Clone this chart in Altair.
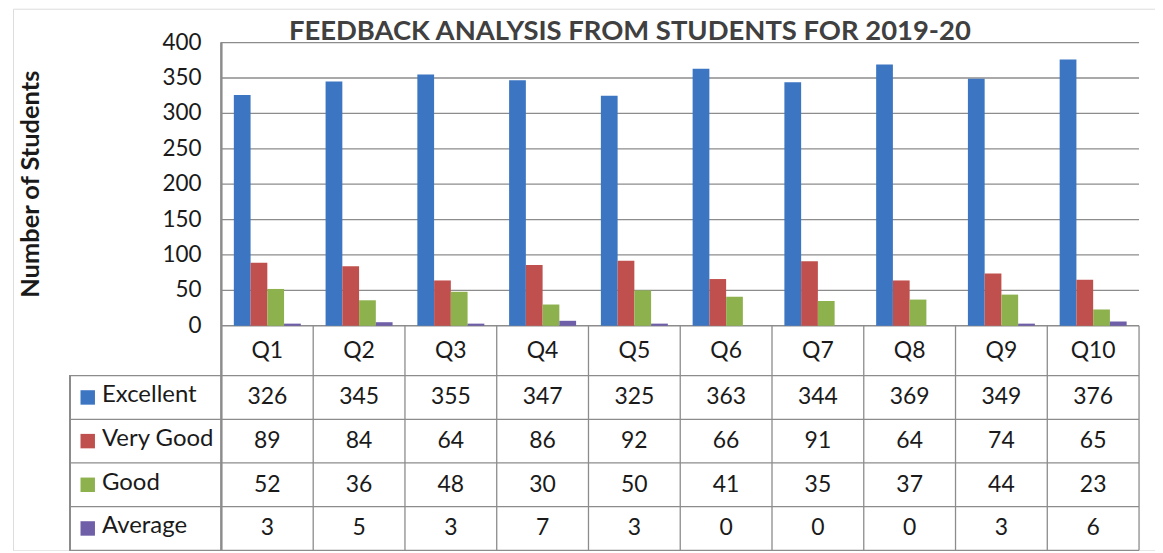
import altair as alt
import pandas as pd

# ---- data ----
questions = ["Q1", "Q2", "Q3", "Q4", "Q5", "Q6", "Q7", "Q8", "Q9", "Q10"]
series = ["Excellent", "Very Good", "Good", "Average"]
excellent = [326, 345, 355, 347, 325, 363, 344, 369, 349, 376]
very_good = [89, 84, 64, 86, 92, 66, 91, 64, 74, 65]
good = [52, 36, 48, 30, 50, 41, 35, 37, 44, 23]
average = [3, 5, 3, 7, 3, 0, 0, 0, 3, 6]
y_ticks = [0, 50, 100, 150, 200, 250, 300, 350, 400]
y_title = ["Number of Students"]
colors = ["#3C75C2", "#C0504D", "#8DB24D", "#6F5EA8"]

values = [excellent, very_good, good, average]

# ---- layout (in scale units) ----
PX_PER_UNIT = 0.71          # vertical pixels per student
COL_PX = 92.0               # pixels per question column
header_u = 50 / PX_PER_UNIT
row_u = 43.8 / PX_PER_UNIT
bottom_u = header_u + 4 * row_u
label_col_u = 152 / COL_PX
y_top = 400 + 34 / PX_PER_UNIT
x_left = -209 / COL_PX
x_right = 936 / COL_PX
n_q = len(questions)

xs = alt.Scale(domain=[x_left, x_right], nice=False, zero=False)
ys = alt.Scale(domain=[-bottom_u, y_top], nice=False, zero=False)
cs = alt.Scale(domain=series, range=colors)

FONT = "Lato"
TXT = "#1a1a1a"
LINE = "#8c8c8c"

rows = []
for si, s in enumerate(series):
    for qi, q in enumerate(questions):
        rows.append({"q": q, "qi": qi, "s": s, "si": si, "v": values[si][qi]})
df = pd.DataFrame(rows)

ticks_df = pd.DataFrame({"t": y_ticks})
q_df = pd.DataFrame({"q": questions, "qi": list(range(n_q))})
s_df = pd.DataFrame({"s": series, "si": list(range(len(series)))})
title_df = pd.DataFrame({"t": y_title})

vlines = pd.DataFrame({"b": list(range(1, n_q + 1))})
hlines = pd.DataFrame({"r": list(range(0, len(series) + 1))})

base = alt.Chart(df)

grid = alt.Chart(ticks_df).mark_rule(color=LINE, strokeWidth=1.3).encode(
    y=alt.Y("t:Q", scale=ys, axis=None),
    x=alt.X(datum=0, scale=xs, axis=None),
    x2=alt.X2(datum=n_q),
)

tick_labels = alt.Chart(ticks_df).mark_text(
    font=FONT, fontSize=22.5, color=TXT, align="right", baseline="middle", dx=-20
).encode(
    y=alt.Y("t:Q", scale=ys, axis=None),
    x=alt.X(datum=0, scale=xs, axis=None),
    text="t:Q",
)

axis_title = alt.Chart(title_df).mark_text(
    font=FONT, fontSize=25.5, fontWeight="bold", color=TXT, align="center",
    baseline="middle", angle=270
).encode(
    y=alt.Y(datum=200, scale=ys, axis=None),
    x=alt.X(datum=-191 / COL_PX, scale=xs, axis=None),
    text="t:N",
)

left_border = alt.Chart(ticks_df).mark_rule(color=LINE, strokeWidth=1.3).encode(
    x=alt.X(datum=0, scale=xs, axis=None),
    y=alt.Y(datum=-bottom_u, scale=ys, axis=None),
    y2=alt.Y2(datum=400),
)

col_lines = alt.Chart(vlines).mark_rule(color=LINE, strokeWidth=1.3).encode(
    x=alt.X("b:Q", scale=xs, axis=None),
    y=alt.Y(datum=-bottom_u, scale=ys, axis=None),
    y2=alt.Y2(datum=0),
)

label_border = alt.Chart(ticks_df).mark_rule(color=LINE, strokeWidth=1.3).encode(
    x=alt.X(datum=-label_col_u, scale=xs, axis=None),
    y=alt.Y(datum=-bottom_u, scale=ys, axis=None),
    y2=alt.Y2(datum=-header_u),
)

row_lines = alt.Chart(hlines).transform_calculate(
    yy=f"-({header_u} + datum.r * {row_u})"
).mark_rule(color=LINE, strokeWidth=1.3).encode(
    y=alt.Y("yy:Q", scale=ys, axis=None),
    x=alt.X(datum=-label_col_u, scale=xs, axis=None),
    x2=alt.X2(datum=n_q),
)

bars = base.transform_calculate(
    x0="datum.qi + 0.135 + datum.si * 0.1825",
    x1="datum.qi + 0.135 + (datum.si + 1) * 0.1825",
).mark_bar().encode(
    x=alt.X("x0:Q", scale=xs, axis=None),
    x2="x1:Q",
    y=alt.Y("v:Q", scale=ys, axis=None),
    y2=alt.Y2(datum=0),
    color=alt.Color("s:N", scale=cs, legend=None),
)

q_text = alt.Chart(q_df).transform_calculate(
    xc="datum.qi + 0.5", yc=f"-{header_u / 2}"
).mark_text(font=FONT, fontSize=23, color=TXT, baseline="middle", align="center").encode(
    x=alt.X("xc:Q", scale=xs, axis=None),
    y=alt.Y("yc:Q", scale=ys, axis=None),
    text="q:N",
)

cell_text = base.transform_calculate(
    xc="datum.qi + 0.5", yc=f"-({header_u} + (datum.si + 0.5) * {row_u})"
).mark_text(font=FONT, fontSize=23, color=TXT, baseline="middle", align="center").encode(
    x=alt.X("xc:Q", scale=xs, axis=None),
    y=alt.Y("yc:Q", scale=ys, axis=None),
    text="v:Q",
)

swatch = alt.Chart(s_df).transform_calculate(
    xc=f"-{label_col_u} + 0.195", yc=f"-({header_u} + (datum.si + 0.5) * {row_u})"
).mark_square(size=210, opacity=1).encode(
    x=alt.X("xc:Q", scale=xs, axis=None),
    y=alt.Y("yc:Q", scale=ys, axis=None),
    color=alt.Color("s:N", scale=cs, legend=None),
)

row_labels = alt.Chart(s_df).transform_calculate(
    xc=f"-{label_col_u} + 0.35", yc=f"-({header_u} + (datum.si + 0.5) * {row_u})"
).mark_text(font=FONT, fontSize=24, color=TXT, baseline="middle", align="left", dy=-2).encode(
    x=alt.X("xc:Q", scale=xs, axis=None),
    y=alt.Y("yc:Q", scale=ys, axis=None),
    text="s:N",
)

chart = alt.layer(
    grid, col_lines, left_border, label_border, row_lines, bars,
    tick_labels, axis_title, q_text, cell_text, swatch, row_labels,
).properties(
    width=1145, height=543,
    padding={"left": 5, "top": 0, "right": 0, "bottom": 0},
    autosize=alt.AutoSizeParams(type="none"),
    title=alt.TitleParams(
        "FEEDBACK ANALYSIS FROM STUDENTS FOR 2019-20",
        font=FONT, fontSize=27.5, fontWeight="bold", color="#404040",
        anchor="middle", frame="group", dx=46, offset=-37,
    ),
).configure_view(stroke="#a6a6a6", strokeWidth=1.5).configure(background="white")

chart.save("out.html", embed_options={"renderer": "svg", "actions": False})
